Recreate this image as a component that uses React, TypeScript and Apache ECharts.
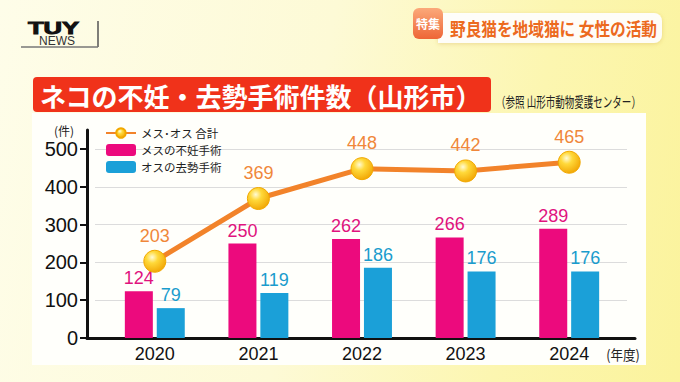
import React, { useEffect, useRef } from "react";
import * as echarts from "echarts";

const years = ["2020", "2021", "2022", "2023", "2024"];
const femaleSpay = [124, 250, 262, 266, 289];
const maleNeuter = [79, 119, 186, 176, 176];
const total = [203, 369, 448, 442, 465];
const yTicks = [0, 100, 200, 300, 400, 500];

const seriesNames = ["メス･オス 合計", "メスの不妊手術", "オスの去勢手術"];
const titleText = "ネコの不妊・去勢手術件数（山形市）";
const sourceText = "（参照 山形市動物愛護センター）";
const bannerText = "野良猫を地域猫に 女性の活動";

const NUM = "'Liberation Sans', Arial, 'Noto Sans', sans-serif";
const JP = "'Noto Sans CJK JP', 'Noto Sans', sans-serif";

export default function App() {
  const ref = useRef<HTMLDivElement>(null);

  useEffect(() => {
    if (!ref.current) return;
    const chart = echarts.init(ref.current, null, { renderer: "svg" });
    const ball = new echarts.graphic.RadialGradient(0.38, 0.32, 0.75, [
      { offset: 0, color: "#fffbd6" },
      { offset: 0.35, color: "#ffd93a" },
      { offset: 1, color: "#f0a200" },
    ]);
    chart.setOption({
      animation: false,
      backgroundColor: "transparent",
      textStyle: { fontFamily: NUM },
      grid: [
        { left: 103, right: 59, top: 149, bottom: 44 },
        { left: 87, right: 45, top: 130, bottom: 44 },
        { left: 95, right: 53, top: 149, bottom: 44 },
      ],
      xAxis: [
        {
          type: "category",
          gridIndex: 0,
          data: years,
          axisLine: { show: false },
          axisTick: { show: false },
          axisLabel: { color: "#111", fontSize: 18, margin: 7, fontFamily: NUM },
        },
        {
          type: "value",
          gridIndex: 1,
          min: 0,
          max: 1,
          axisLine: { show: true, lineStyle: { color: "#111", width: 3 } },
          axisTick: { show: false },
          axisLabel: { show: false },
          splitLine: { show: false },
        },
        {
          type: "value",
          gridIndex: 2,
          min: 0,
          max: 1,
          show: false,
        },
      ],
      yAxis: [
        { type: "value", gridIndex: 0, min: 0, max: 500, show: false },
        {
          type: "value",
          gridIndex: 1,
          min: 0,
          max: 550,
          axisLine: { show: true, lineStyle: { color: "#111", width: 3 } },
          axisTick: {
            show: true,
            length: 7,
            lineStyle: { color: "#111", width: 2 },
            customValues: yTicks,
          },
          axisLabel: {
            color: "#111",
            fontSize: 20,
            margin: 9,
            fontFamily: NUM,
            customValues: yTicks,
            formatter: (v: number) => (v > 500 ? "" : String(v)),
          },
          splitLine: { show: false },
        },
        {
          type: "value",
          gridIndex: 2,
          min: 0,
          max: 500,
          interval: 100,
          axisLine: { show: false },
          axisTick: { show: false },
          axisLabel: { show: false },
          splitLine: { show: true, lineStyle: { color: "#dcdcdc", width: 1 } },
        },
      ],
      legend: {
        orient: "vertical",
        left: 105,
        top: 127,
        padding: 0,
        itemWidth: 30,
        itemHeight: 12,
        itemGap: 5,
        data: seriesNames,
        textStyle: { fontSize: 11.5, fontFamily: JP, color: "#222", lineHeight: 12 },
      },
      series: [
        {
          name: seriesNames[1],
          type: "bar",
          xAxisIndex: 0,
          yAxisIndex: 0,
          data: femaleSpay,
          barWidth: 28,
          barGap: "14%",
          itemStyle: { color: "#ec0a7d" },
          label: {
            show: true,
            position: "top",
            distance: 4,
            color: "#e0137e",
            fontSize: 18,
            fontFamily: NUM,
          },
        },
        {
          name: seriesNames[2],
          type: "bar",
          xAxisIndex: 0,
          yAxisIndex: 0,
          data: maleNeuter,
          barWidth: 28,
          barGap: "14%",
          itemStyle: { color: "#1ba0d8" },
          label: {
            show: true,
            position: "top",
            distance: 4,
            color: "#1a9ccd",
            fontSize: 18,
            fontFamily: NUM,
          },
        },
        {
          name: seriesNames[0],
          type: "line",
          xAxisIndex: 0,
          yAxisIndex: 0,
          data: total,
          z: 5,
          symbol: "circle",
          symbolSize: 22,
          lineStyle: { color: "#f2832a", width: 5 },
          itemStyle: { color: ball, borderColor: "#f2a800", borderWidth: 1 },
          label: {
            show: true,
            position: "top",
            distance: 5,
            color: "#f0873a",
            fontSize: 18,
            fontFamily: NUM,
          },
        },
      ],
      graphic: [
        // logo
        {
          type: "text",
          x: 28,
          y: 21,
          scaleX: 1.6,
          style: {
            text: "TUY",
            fontSize: 16,
            fontWeight: 900,
            fontFamily: NUM,
            fill: "#111",
            stroke: "#111",
            lineWidth: 0.9,
            textVerticalAlign: "top",
          },
        },
        {
          type: "text",
          x: 39,
          y: 35,
          style: { text: "NEWS", fontSize: 12, fontFamily: NUM, fill: "#333", textVerticalAlign: "top" },
        },
        { type: "line", shape: { x1: 98, y1: 21, x2: 98, y2: 47 }, style: { stroke: "#555", lineWidth: 1.5 } },
        { type: "line", shape: { x1: 21, y1: 47, x2: 98, y2: 47 }, style: { stroke: "#777", lineWidth: 1.5 } },
        // banner
        {
          type: "rect",
          shape: { x: 438, y: 13, width: 224, height: 30, r: [0, 8, 8, 0] },
          style: { fill: "rgba(255,255,255,0.92)", shadowBlur: 4, shadowColor: "rgba(200,150,50,0.35)", shadowOffsetY: 1 },
        },
        {
          type: "rect",
          shape: { x: 413, y: 8, width: 30, height: 31, r: 6 },
          style: {
            fill: new echarts.graphic.LinearGradient(0, 0, 0, 1, [
              { offset: 0, color: "#fba97a" },
              { offset: 1, color: "#ee6636" },
            ]),
          },
        },
        {
          type: "text",
          x: 428,
          y: 23.5,
          style: { text: "特集", fontSize: 12, fontWeight: "bold", fontFamily: JP, fill: "#fff", textAlign: "center", textVerticalAlign: "middle" },
        },
        {
          type: "text",
          x: 450,
          y: 28,
          scaleX: 0.87,
          style: { text: bannerText, fontSize: 18, fontWeight: "bold", fontFamily: JP, fill: "#ec6a1e", textVerticalAlign: "middle" },
        },
        // title
        {
          type: "rect",
          shape: { x: 33, y: 77, width: 458, height: 35, r: 4 },
          style: { fill: "#f0321a" },
        },
        {
          type: "text",
          x: 40,
          y: 95,
          style: { text: titleText, fontSize: 26, fontWeight: "bold", fontFamily: JP, fill: "#fff", textVerticalAlign: "middle" },
        },
        {
          type: "text",
          x: 496,
          y: 101,
          scaleX: 0.68,
          style: { text: sourceText, fontSize: 14, fontFamily: JP, fill: "#222", textVerticalAlign: "middle" },
        },
        // axis unit labels
        {
          type: "text",
          x: 64,
          y: 130,
          style: { text: "(件)", fontSize: 12, fontFamily: JP, fill: "#222", textAlign: "center", textVerticalAlign: "middle" },
        },
        {
          type: "text",
          x: 623,
          y: 354,
          scaleX: 0.9,
          style: { text: "(年度)", fontSize: 14, fontFamily: JP, fill: "#222", textAlign: "center", textVerticalAlign: "middle" },
        },
      ],
    });
    return () => chart.dispose();
  }, []);

  return (
    <div
      style={{
        position: "fixed",
        left: 0,
        top: 0,
        width: 680,
        height: 382,
        overflow: "hidden",
        background: "linear-gradient(100deg, #fefde9 0%, #fdfad6 45%, #fcf6b0 75%, #fbf39c 100%)",
      }}
    >
      <div
        style={{
          position: "absolute",
          left: 32,
          top: 113,
          width: 614,
          height: 252,
          background: "#fffffb",
        }}
      />
      <div ref={ref} style={{ position: "absolute", left: 0, top: 0, width: 680, height: 382 }} />
    </div>
  );
}
